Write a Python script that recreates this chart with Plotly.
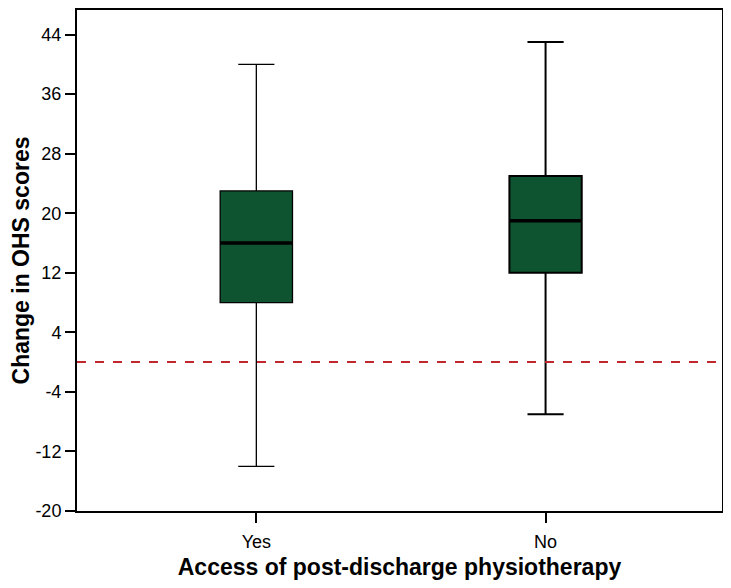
import plotly.graph_objects as go

# box-plot statistics
groups = ['Yes', 'No']
lower_whisker = [-14, -7]
q1 = [8, 12]
median = [16, 19]
q3 = [23, 25]
upper_whisker = [40, 43]
whisker_lw = [1.3, 2]

ref_line = 0
y_ticks = [-20, -12, -4, 4, 12, 20, 28, 36, 44]

box_fill = '#0e5430'
box_w = 0.25

fig = go.Figure()
for i, g in enumerate(groups):
    fig.add_trace(go.Box(
        x=[g],
        q1=[q1[i]], median=[median[i]], q3=[q3[i]],
        lowerfence=[lower_whisker[i]], upperfence=[upper_whisker[i]],
        name=g,
        width=box_w,
        whiskerwidth=0.5,
        fillcolor=box_fill,
        line=dict(color='black', width=whisker_lw[i]),
        boxpoints=False,
        showlegend=False,
    ))
    # thicker median line, like the original
    fig.add_shape(type='line', xref='x', yref='y',
                  x0=i - box_w / 2, x1=i + box_w / 2,
                  y0=median[i], y1=median[i],
                  line=dict(color='black', width=3.5))

fig.add_shape(type='line', xref='paper', yref='y', x0=0, x1=1,
              y0=ref_line, y1=ref_line,
              line=dict(color='#c0282d', width=2, dash='dash'), layer='above')

# page body adds an 8px margin, so the figure is a bit smaller than the window
fig.update_layout(
    width=723, height=580,
    margin=dict(l=69, r=9, t=0, b=77),
    paper_bgcolor='white', plot_bgcolor='white',
    font=dict(family='Liberation Sans, Arial, sans-serif', color='black'),
    xaxis=dict(
        type='category', categoryorder='array', categoryarray=groups,
        range=[-0.62, 1.61],
        showline=True, linecolor='black', linewidth=2, mirror=True,
        ticks='outside', ticklen=10, tickwidth=2, tickcolor='black',
        tickfont=dict(size=18), ticklabelstandoff=3,
        title=dict(text='<b>Access of post-discharge physiotherapy</b>',
                   font=dict(size=23), standoff=8),
        showgrid=False, zeroline=False,
    ),
    yaxis=dict(
        range=[-20, 47.3],
        tickvals=y_ticks,
        ticktext=[str(v) for v in y_ticks],
        showline=True, linecolor='black', linewidth=2, mirror=True,
        ticks='outside', ticklen=10, tickwidth=2, tickcolor='black',
        tickfont=dict(size=18),
        title=dict(text='<b>Change in OHS scores</b>',
                   font=dict(size=23), standoff=5),
        showgrid=False, zeroline=False,
    ),
)

fig.write_html('out.html')
